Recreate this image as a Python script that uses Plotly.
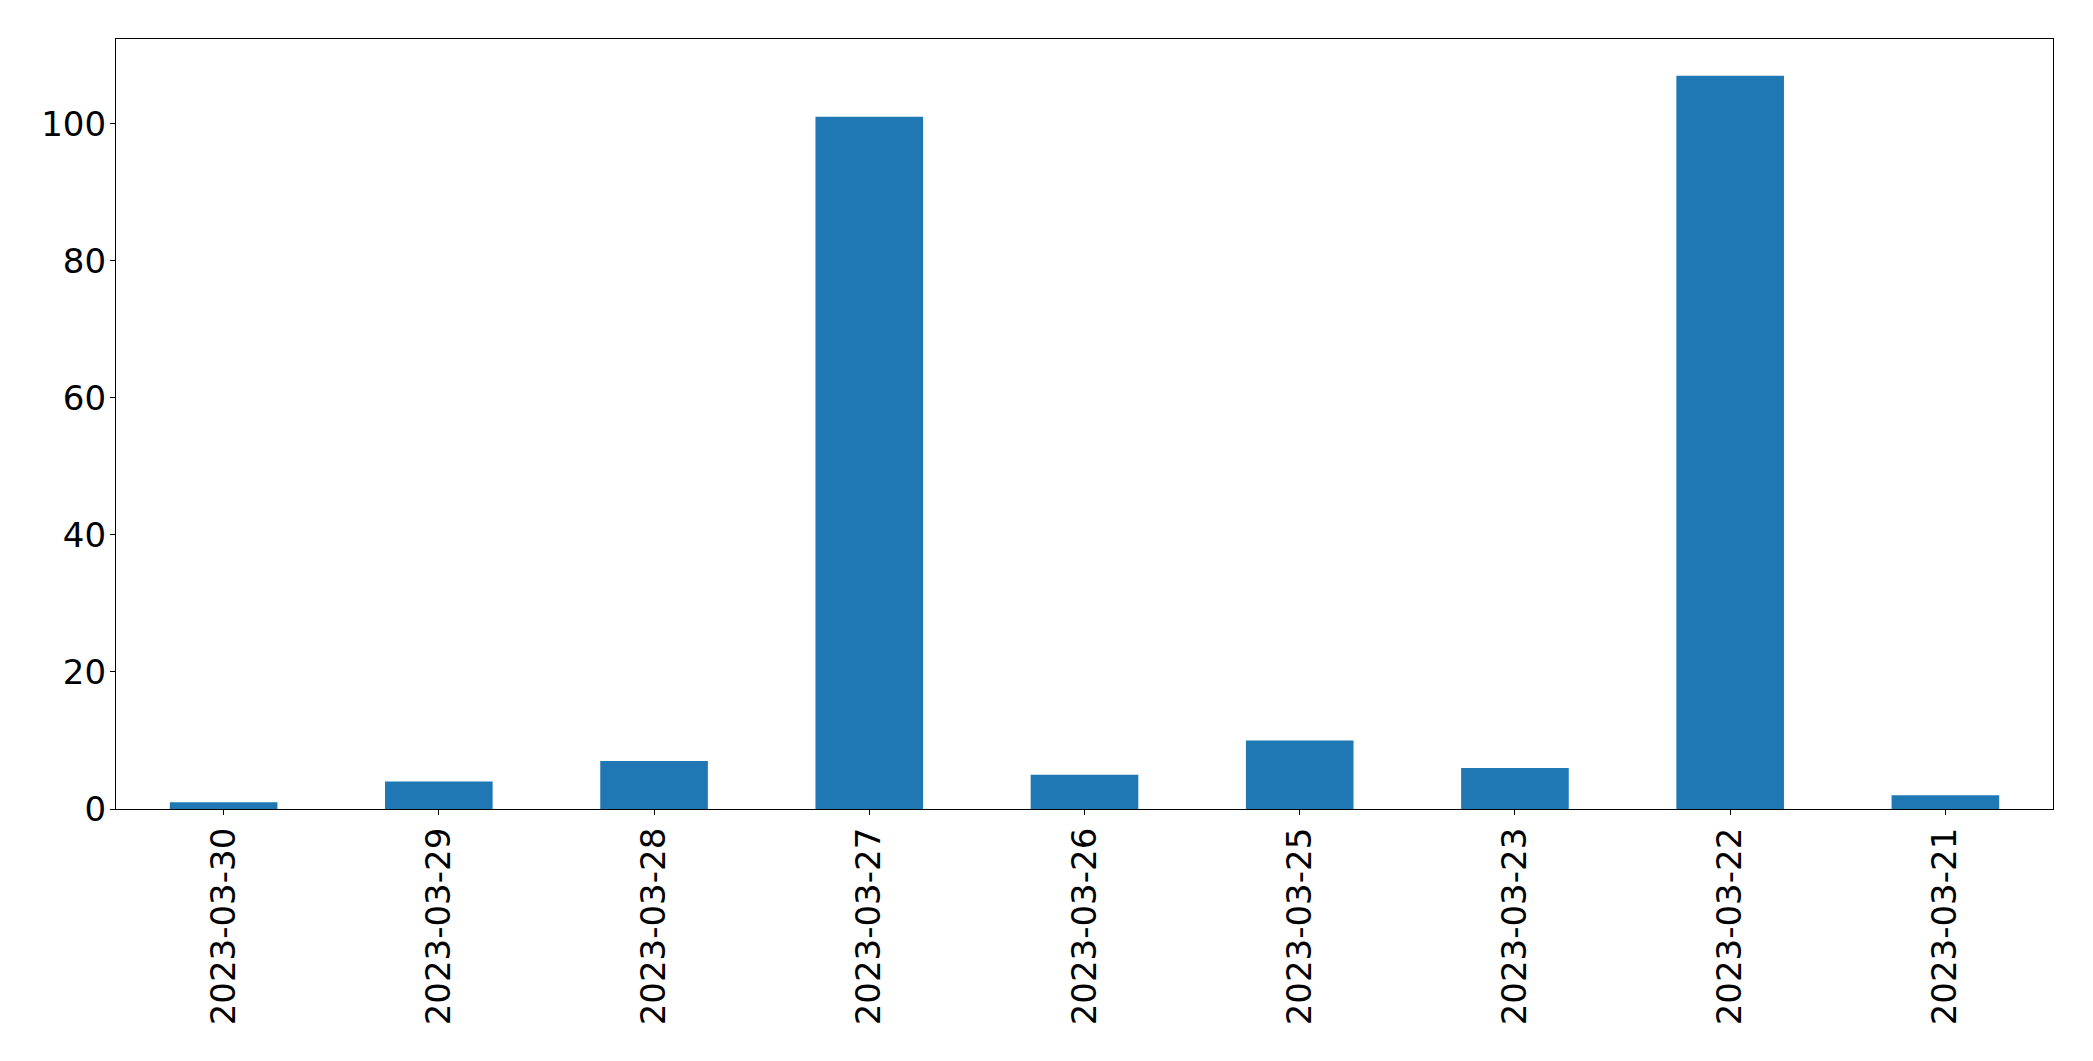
import plotly.graph_objects as go

dates = ["2023-03-30", "2023-03-29", "2023-03-28", "2023-03-27", "2023-03-26",
         "2023-03-25", "2023-03-23", "2023-03-22", "2023-03-21"]
counts = [1, 4, 7, 101, 5, 10, 6, 107, 2]
y_ticks = [0, 20, 40, 60, 80, 100]

fig = go.Figure(go.Bar(x=dates, y=counts, width=0.5, marker_color="#1f77b4",
                       marker_line_width=0))

fig.update_layout(
    width=2085, height=1053,
    margin=dict(l=108, r=40, t=31, b=252, pad=0),
    paper_bgcolor="white", plot_bgcolor="white",
    font=dict(family="DejaVu Sans", size=34, color="black"),
    showlegend=False,
)
fig.update_xaxes(type="category", range=[-0.5, len(dates) - 0.5], tickangle=-90,
                 showline=True, mirror=True, linecolor="black", linewidth=1.3,
                 ticks="outside", ticklen=5, tickwidth=1.3, tickcolor="black",
                 showgrid=False, zeroline=False, ticklabelstandoff=-1)
fig.update_yaxes(range=[0, 112.35], tickvals=y_ticks,
                 showline=True, mirror=True, linecolor="black", linewidth=1.3,
                 ticks="outside", ticklen=5, tickwidth=1.3, tickcolor="black",
                 showgrid=False, zeroline=False, ticklabelstandoff=-3)

fig.write_html("out.html")
